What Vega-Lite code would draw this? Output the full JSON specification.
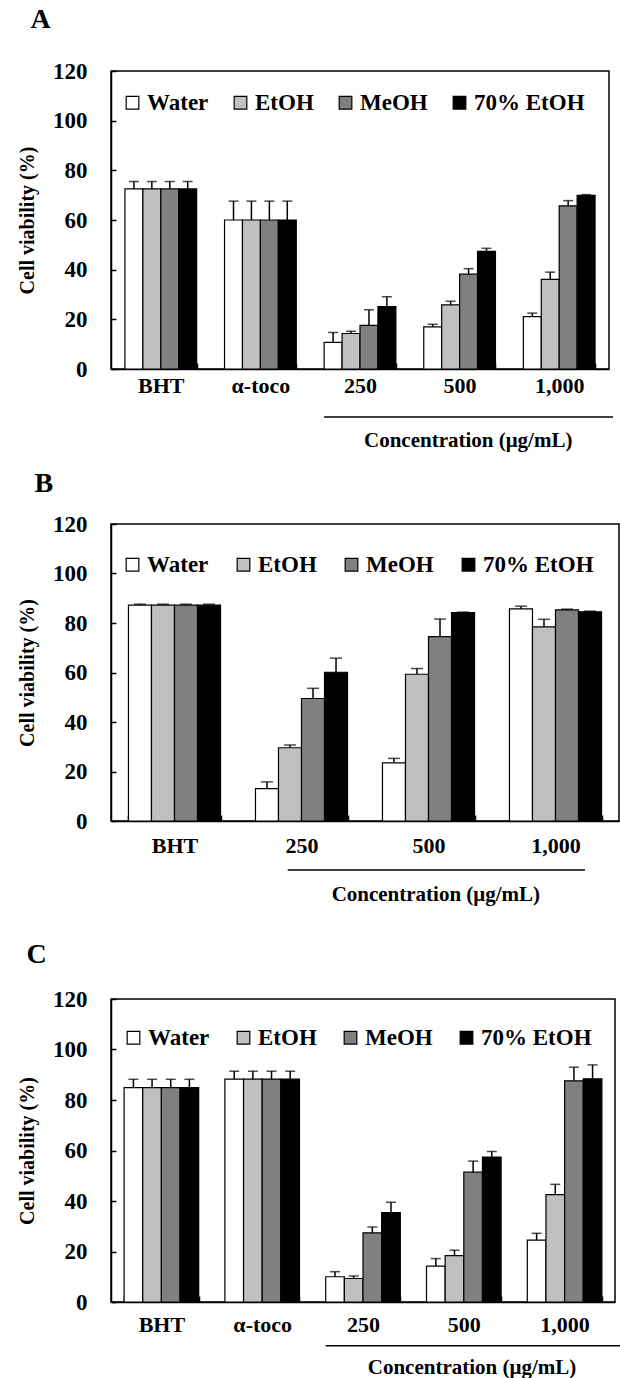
{
  "$schema": "https://vega.github.io/schema/vega-lite/v6.json",
  "padding": {"left": 16, "top": 5, "right": 0, "bottom": 0},
  "background": "white",
  "config": {
    "font": "Liberation Serif",
    "view": {"stroke": "black", "strokeWidth": 1.5},
    "axis": {"labelFont": "Liberation Serif", "labelFontWeight": "bold", "labelColor": "black", "titleFont": "Liberation Serif", "titleFontWeight": "bold", "titleColor": "black", "domainColor": "black", "domainWidth": 1.5, "tickColor": "black", "tickWidth": 1.5, "grid": false},
    "legend": {"labelFont": "Liberation Serif", "labelFontWeight": "bold", "labelFontSize": 23, "labelColor": "black", "symbolType": "square", "symbolSize": 160, "symbolStrokeColor": "black", "symbolStrokeWidth": 1.2, "labelOffset": 3, "columnPadding": 22, "direction": "horizontal", "orient": "none", "title": null},
    "title": {"font": "Liberation Serif", "fontWeight": "bold", "fontSize": 28, "anchor": "start", "frame": "bounds", "color": "black"}
  },
  "datasets": {
    "A": [
      {"g": "BHT", "s": "Water", "v": 72.5, "hi": 75.5},
      {"g": "BHT", "s": "EtOH", "v": 72.5, "hi": 75.5},
      {"g": "BHT", "s": "MeOH", "v": 72.5, "hi": 75.5},
      {"g": "BHT", "s": "70% EtOH", "v": 72.5, "hi": 75.5},
      {"g": "α-toco", "s": "Water", "v": 60.0, "hi": 67.6},
      {"g": "α-toco", "s": "EtOH", "v": 60.0, "hi": 67.6},
      {"g": "α-toco", "s": "MeOH", "v": 60.0, "hi": 67.6},
      {"g": "α-toco", "s": "70% EtOH", "v": 60.0, "hi": 67.6},
      {"g": "250", "s": "Water", "v": 10.7, "hi": 14.7},
      {"g": "250", "s": "EtOH", "v": 14.3, "hi": 15.2},
      {"g": "250", "s": "MeOH", "v": 17.6, "hi": 23.9},
      {"g": "250", "s": "70% EtOH", "v": 25.1, "hi": 29.1},
      {"g": "500", "s": "Water", "v": 17.0, "hi": 18.0},
      {"g": "500", "s": "EtOH", "v": 25.8, "hi": 27.3},
      {"g": "500", "s": "MeOH", "v": 38.2, "hi": 40.4},
      {"g": "500", "s": "70% EtOH", "v": 47.4, "hi": 48.6},
      {"g": "1,000", "s": "Water", "v": 21.1, "hi": 22.5},
      {"g": "1,000", "s": "EtOH", "v": 36.1, "hi": 39.0},
      {"g": "1,000", "s": "MeOH", "v": 65.7, "hi": 67.8},
      {"g": "1,000", "s": "70% EtOH", "v": 69.9, "hi": 70.2}
    ],
    "B": [
      {"g": "BHT", "s": "Water", "v": 87.2, "hi": 87.6},
      {"g": "BHT", "s": "EtOH", "v": 87.2, "hi": 87.6},
      {"g": "BHT", "s": "MeOH", "v": 87.2, "hi": 87.6},
      {"g": "BHT", "s": "70% EtOH", "v": 87.2, "hi": 87.6},
      {"g": "250", "s": "Water", "v": 13.1, "hi": 15.8},
      {"g": "250", "s": "EtOH", "v": 29.6, "hi": 30.7},
      {"g": "250", "s": "MeOH", "v": 49.5, "hi": 53.6},
      {"g": "250", "s": "70% EtOH", "v": 60.1, "hi": 65.8},
      {"g": "500", "s": "Water", "v": 23.5, "hi": 25.3},
      {"g": "500", "s": "EtOH", "v": 59.3, "hi": 61.6},
      {"g": "500", "s": "MeOH", "v": 74.5, "hi": 81.6},
      {"g": "500", "s": "70% EtOH", "v": 84.2, "hi": 84.4},
      {"g": "1,000", "s": "Water", "v": 85.7, "hi": 86.8},
      {"g": "1,000", "s": "EtOH", "v": 78.4, "hi": 81.5},
      {"g": "1,000", "s": "MeOH", "v": 85.3, "hi": 85.6},
      {"g": "1,000", "s": "70% EtOH", "v": 84.5, "hi": 84.8}
    ],
    "C": [
      {"g": "BHT", "s": "Water", "v": 84.9, "hi": 88.2},
      {"g": "BHT", "s": "EtOH", "v": 84.9, "hi": 88.2},
      {"g": "BHT", "s": "MeOH", "v": 84.9, "hi": 88.2},
      {"g": "BHT", "s": "70% EtOH", "v": 84.9, "hi": 88.2},
      {"g": "α-toco", "s": "Water", "v": 88.3, "hi": 91.4},
      {"g": "α-toco", "s": "EtOH", "v": 88.3, "hi": 91.4},
      {"g": "α-toco", "s": "MeOH", "v": 88.3, "hi": 91.4},
      {"g": "α-toco", "s": "70% EtOH", "v": 88.3, "hi": 91.4},
      {"g": "250", "s": "Water", "v": 10.0, "hi": 12.0},
      {"g": "250", "s": "EtOH", "v": 9.3, "hi": 10.3},
      {"g": "250", "s": "MeOH", "v": 27.4, "hi": 29.7},
      {"g": "250", "s": "70% EtOH", "v": 35.4, "hi": 39.5},
      {"g": "500", "s": "Water", "v": 14.2, "hi": 17.2},
      {"g": "500", "s": "EtOH", "v": 18.4, "hi": 20.5},
      {"g": "500", "s": "MeOH", "v": 51.4, "hi": 55.8},
      {"g": "500", "s": "70% EtOH", "v": 57.4, "hi": 59.6},
      {"g": "1,000", "s": "Water", "v": 24.5, "hi": 27.2},
      {"g": "1,000", "s": "EtOH", "v": 42.5, "hi": 46.6},
      {"g": "1,000", "s": "MeOH", "v": 87.6, "hi": 93.0},
      {"g": "1,000", "s": "70% EtOH", "v": 88.4, "hi": 93.9}
    ]
  },
  "resolve": {"scale": {"x": "independent", "y": "independent", "fill": "independent", "xOffset": "independent"}, "legend": {"fill": "independent"}},
  "columns": 1,
  "align": "none",
  "spacing": 17,
  "concat": [
    {
      "title": {"text": "A", "offset": 26, "dx": 13},
      "width": 498,
      "height": 298,
      "layer": [
        {
          "data": {"name": "A"},
          "mark": {"type": "rule", "color": "black", "strokeWidth": 1.5},
          "encoding": {
            "x": {"field": "g", "type": "nominal", "sort": ["BHT", "α-toco", "250", "500", "1,000"], "scale": {"paddingInner": 0.28, "paddingOuter": 0.14}, "axis": {"title": null, "labelAngle": 0, "labelFontSize": 22, "tickBand": "extent", "tickSize": -6, "labelPadding": 12}},
            "xOffset": {"field": "s", "sort": ["Water", "EtOH", "MeOH", "70% EtOH"]},
            "y": {"field": "v", "type": "quantitative", "scale": {"domain": [0, 120]}, "axis": {"title": "Cell viability (%)", "titleFontSize": 20, "titlePadding": 15, "labelFontSize": 23, "values": [0, 20, 40, 60, 80, 100, 120], "tickSize": -5, "labelPadding": 29}},
            "y2": {"field": "hi"}
          }
        },
        {
          "data": {"name": "A"},
          "mark": {"type": "tick", "color": "black", "thickness": 1.5, "size": 10},
          "encoding": {
            "x": {"field": "g", "type": "nominal", "sort": ["BHT", "α-toco", "250", "500", "1,000"]},
            "xOffset": {"field": "s", "sort": ["Water", "EtOH", "MeOH", "70% EtOH"]},
            "y": {"field": "hi", "type": "quantitative"}
          }
        },
        {
          "data": {"name": "A"},
          "mark": {"type": "bar", "stroke": "black", "strokeWidth": 1.2},
          "encoding": {
            "x": {"field": "g", "type": "nominal", "sort": ["BHT", "α-toco", "250", "500", "1,000"]},
            "xOffset": {"field": "s", "sort": ["Water", "EtOH", "MeOH", "70% EtOH"]},
            "y": {"field": "v", "type": "quantitative"},
            "fill": {"field": "s", "type": "nominal", "scale": {"domain": ["Water", "EtOH", "MeOH", "70% EtOH"], "range": ["white", "#c0c0c0", "#808080", "black"]}, "legend": {"legendX": 10, "legendY": 20, "columnPadding": 20}}
          }
        },
        {
          "data": {"values": [{"label": "Concentration (μg/mL)"}]},
          "mark": {"type": "rule", "color": "black", "strokeWidth": 1.5},
          "encoding": {
            "x": {"datum": "250", "bandPosition": 0},
            "x2": {"datum": "1,000", "bandPosition": 1.25},
            "y": {"datum": -19.3}
          }
        },
        {
          "data": {"values": [{"label": "Concentration (μg/mL)"}]},
          "mark": {"type": "text", "font": "Liberation Serif", "fontWeight": "bold", "fontSize": 21, "baseline": "middle", "align": "center", "color": "black"},
          "encoding": {
            "x": {"datum": "500", "bandPosition": 0.62},
            "y": {"datum": -29},
            "text": {"field": "label"}
          }
        }
      ]
    },
    {
      "columns": 1,
      "align": "none",
      "spacing": 34,
      "resolve": {"scale": {"x": "independent", "y": "independent", "fill": "independent", "xOffset": "independent"}, "legend": {"fill": "independent"}},
      "concat": [
        {
          "title": {"text": "B", "offset": 15, "dx": 17},
          "width": 508,
          "height": 297,
          "layer": [
            {
              "data": {"name": "B"},
              "mark": {"type": "rule", "color": "black", "strokeWidth": 1.5},
              "encoding": {
                "x": {"field": "g", "type": "nominal", "sort": ["BHT", "250", "500", "1,000"], "scale": {"paddingInner": 0.275, "paddingOuter": 0.1375}, "axis": {"title": null, "labelAngle": 0, "labelFontSize": 22, "tickBand": "extent", "tickSize": -6, "labelPadding": 20}},
                "xOffset": {"field": "s", "sort": ["Water", "EtOH", "MeOH", "70% EtOH"]},
                "y": {"field": "v", "type": "quantitative", "scale": {"domain": [0, 120]}, "axis": {"title": "Cell viability (%)", "titleFontSize": 20, "titlePadding": 15, "labelFontSize": 23, "values": [0, 20, 40, 60, 80, 100, 120], "tickSize": -5, "labelPadding": 29}},
                "y2": {"field": "hi"}
              }
            },
            {
              "data": {"name": "B"},
              "mark": {"type": "tick", "color": "black", "thickness": 1.5, "size": 12},
              "encoding": {
                "x": {"field": "g", "type": "nominal", "sort": ["BHT", "250", "500", "1,000"]},
                "xOffset": {"field": "s", "sort": ["Water", "EtOH", "MeOH", "70% EtOH"]},
                "y": {"field": "hi", "type": "quantitative"}
              }
            },
            {
              "data": {"name": "B"},
              "mark": {"type": "bar", "stroke": "black", "strokeWidth": 1.2},
              "encoding": {
                "x": {"field": "g", "type": "nominal", "sort": ["BHT", "250", "500", "1,000"]},
                "xOffset": {"field": "s", "sort": ["Water", "EtOH", "MeOH", "70% EtOH"]},
                "y": {"field": "v", "type": "quantitative"},
                "fill": {"field": "s", "type": "nominal", "scale": {"domain": ["Water", "EtOH", "MeOH", "70% EtOH"], "range": ["white", "#c0c0c0", "#808080", "black"]}, "legend": {"legendX": 10, "legendY": 29, "columnPadding": 23}}
              }
            },
            {
              "data": {"values": [{"label": "Concentration (μg/mL)"}]},
              "mark": {"type": "rule", "color": "black", "strokeWidth": 1.5},
              "encoding": {
                "x": {"datum": "250", "bandPosition": 0.35},
                "x2": {"datum": "1,000", "bandPosition": 0.82},
                "y": {"datum": -19.8}
              }
            },
            {
              "data": {"values": [{"label": "Concentration (μg/mL)"}]},
              "mark": {"type": "text", "font": "Liberation Serif", "fontWeight": "bold", "fontSize": 21, "baseline": "middle", "align": "center", "color": "black"},
              "encoding": {
                "x": {"datum": "500", "bandPosition": 0.58},
                "y": {"datum": -30},
                "text": {"field": "label"}
              }
            }
          ]
        },
        {
          "title": {"text": "C", "offset": 19, "dx": 9},
          "width": 504,
          "height": 303,
          "layer": [
            {
              "data": {"name": "C"},
              "mark": {"type": "rule", "color": "black", "strokeWidth": 1.5},
              "encoding": {
                "x": {"field": "g", "type": "nominal", "sort": ["BHT", "α-toco", "250", "500", "1,000"], "scale": {"paddingInner": 0.26, "paddingOuter": 0.13}, "axis": {"title": null, "labelAngle": 0, "labelFontSize": 22, "tickBand": "extent", "tickSize": -6, "labelPadding": 18}},
                "xOffset": {"field": "s", "sort": ["Water", "EtOH", "MeOH", "70% EtOH"]},
                "y": {"field": "v", "type": "quantitative", "scale": {"domain": [0, 120]}, "axis": {"title": "Cell viability (%)", "titleFontSize": 20, "titlePadding": 15, "labelFontSize": 23, "values": [0, 20, 40, 60, 80, 100, 120], "tickSize": -5, "labelPadding": 29}},
                "y2": {"field": "hi"}
              }
            },
            {
              "data": {"name": "C"},
              "mark": {"type": "tick", "color": "black", "thickness": 1.5, "size": 10},
              "encoding": {
                "x": {"field": "g", "type": "nominal", "sort": ["BHT", "α-toco", "250", "500", "1,000"]},
                "xOffset": {"field": "s", "sort": ["Water", "EtOH", "MeOH", "70% EtOH"]},
                "y": {"field": "hi", "type": "quantitative"}
              }
            },
            {
              "data": {"name": "C"},
              "mark": {"type": "bar", "stroke": "black", "strokeWidth": 1.2},
              "encoding": {
                "x": {"field": "g", "type": "nominal", "sort": ["BHT", "α-toco", "250", "500", "1,000"]},
                "xOffset": {"field": "s", "sort": ["Water", "EtOH", "MeOH", "70% EtOH"]},
                "y": {"field": "v", "type": "quantitative"},
                "fill": {"field": "s", "type": "nominal", "scale": {"domain": ["Water", "EtOH", "MeOH", "70% EtOH"], "range": ["white", "#c0c0c0", "#808080", "black"]}, "legend": {"legendX": 11, "legendY": 27, "columnPadding": 22}}
              }
            },
            {
              "data": {"values": [{"label": "Concentration (μg/mL)"}]},
              "mark": {"type": "rule", "color": "black", "strokeWidth": 1.5},
              "encoding": {
                "x": {"datum": "250", "bandPosition": 0},
                "x2": {"datum": "1,000", "bandPosition": 1.5},
                "y": {"datum": -17.3}
              }
            },
            {
              "data": {"values": [{"label": "Concentration (μg/mL)"}]},
              "mark": {"type": "text", "font": "Liberation Serif", "fontWeight": "bold", "fontSize": 21, "baseline": "middle", "align": "center", "color": "black"},
              "encoding": {
                "x": {"datum": "500", "bandPosition": 0.61},
                "y": {"datum": -26.2},
                "text": {"field": "label"}
              }
            }
          ]
        }
      ]
    }
  ]
}
